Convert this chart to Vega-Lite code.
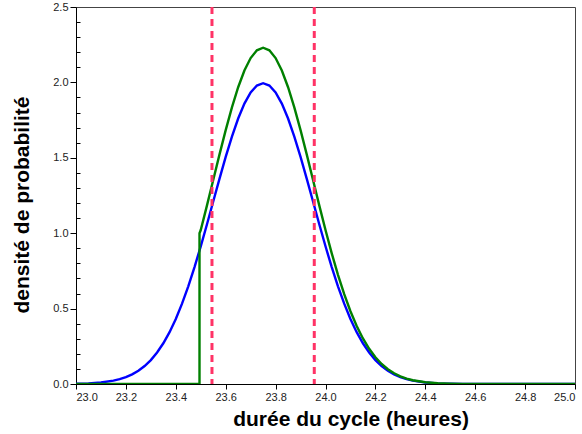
{
  "$schema": "https://vega.github.io/schema/vega-lite/v6.json",
  "autosize": "none",
  "width": 499,
  "height": 377,
  "padding": {"left": 76, "top": 7, "right": 7, "bottom": 50},
  "background": "white",
  "config": {
    "view": {"stroke": "#444444", "strokeWidth": 1},
    "axis": {
      "labelFont": "Liberation Sans",
      "labelFontSize": 11,
      "labelColor": "#222222",
      "titleFont": "Liberation Sans",
      "titleFontSize": 21,
      "titleFontWeight": "bold",
      "titleColor": "#000000",
      "domainColor": "#000000",
      "tickColor": "#000000",
      "grid": false
    }
  },
  "datasets": {
    "curves": [
      {"s": "normale", "i": 1, "x": 23.0, "y": 0.0018},
      {"s": "normale", "i": 2, "x": 23.05, "y": 0.0044},
      {"s": "normale", "i": 3, "x": 23.1, "y": 0.0101},
      {"s": "normale", "i": 4, "x": 23.15, "y": 0.0222},
      {"s": "normale", "i": 5, "x": 23.175, "y": 0.032},
      {"s": "normale", "i": 6, "x": 23.2, "y": 0.0455},
      {"s": "normale", "i": 7, "x": 23.225, "y": 0.0636},
      {"s": "normale", "i": 8, "x": 23.25, "y": 0.0876},
      {"s": "normale", "i": 9, "x": 23.275, "y": 0.1189},
      {"s": "normale", "i": 10, "x": 23.3, "y": 0.1587},
      {"s": "normale", "i": 11, "x": 23.325, "y": 0.2086},
      {"s": "normale", "i": 12, "x": 23.35, "y": 0.27},
      {"s": "normale", "i": 13, "x": 23.375, "y": 0.3439},
      {"s": "normale", "i": 14, "x": 23.4, "y": 0.4314},
      {"s": "normale", "i": 15, "x": 23.425, "y": 0.5327},
      {"s": "normale", "i": 16, "x": 23.45, "y": 0.6476},
      {"s": "normale", "i": 17, "x": 23.475, "y": 0.7751},
      {"s": "normale", "i": 18, "x": 23.5, "y": 0.9132},
      {"s": "normale", "i": 19, "x": 23.525, "y": 1.0594},
      {"s": "normale", "i": 20, "x": 23.55, "y": 1.2099},
      {"s": "normale", "i": 21, "x": 23.575, "y": 1.3603},
      {"s": "normale", "i": 22, "x": 23.6, "y": 1.5057},
      {"s": "normale", "i": 23, "x": 23.625, "y": 1.6408},
      {"s": "normale", "i": 24, "x": 23.65, "y": 1.7603},
      {"s": "normale", "i": 25, "x": 23.675, "y": 1.8593},
      {"s": "normale", "i": 26, "x": 23.7, "y": 1.9333},
      {"s": "normale", "i": 27, "x": 23.725, "y": 1.9792},
      {"s": "normale", "i": 28, "x": 23.75, "y": 1.9947},
      {"s": "normale", "i": 29, "x": 23.775, "y": 1.9792},
      {"s": "normale", "i": 30, "x": 23.8, "y": 1.9333},
      {"s": "normale", "i": 31, "x": 23.825, "y": 1.8593},
      {"s": "normale", "i": 32, "x": 23.85, "y": 1.7603},
      {"s": "normale", "i": 33, "x": 23.875, "y": 1.6408},
      {"s": "normale", "i": 34, "x": 23.9, "y": 1.5057},
      {"s": "normale", "i": 35, "x": 23.925, "y": 1.3603},
      {"s": "normale", "i": 36, "x": 23.95, "y": 1.2099},
      {"s": "normale", "i": 37, "x": 23.975, "y": 1.0594},
      {"s": "normale", "i": 38, "x": 24.0, "y": 0.9132},
      {"s": "normale", "i": 39, "x": 24.025, "y": 0.7751},
      {"s": "normale", "i": 40, "x": 24.05, "y": 0.6476},
      {"s": "normale", "i": 41, "x": 24.075, "y": 0.5327},
      {"s": "normale", "i": 42, "x": 24.1, "y": 0.4314},
      {"s": "normale", "i": 43, "x": 24.125, "y": 0.3439},
      {"s": "normale", "i": 44, "x": 24.15, "y": 0.27},
      {"s": "normale", "i": 45, "x": 24.175, "y": 0.2086},
      {"s": "normale", "i": 46, "x": 24.2, "y": 0.1587},
      {"s": "normale", "i": 47, "x": 24.225, "y": 0.1189},
      {"s": "normale", "i": 48, "x": 24.25, "y": 0.0876},
      {"s": "normale", "i": 49, "x": 24.275, "y": 0.0636},
      {"s": "normale", "i": 50, "x": 24.3, "y": 0.0455},
      {"s": "normale", "i": 51, "x": 24.325, "y": 0.032},
      {"s": "normale", "i": 52, "x": 24.35, "y": 0.0222},
      {"s": "normale", "i": 53, "x": 24.4, "y": 0.0101},
      {"s": "normale", "i": 54, "x": 24.45, "y": 0.0044},
      {"s": "normale", "i": 55, "x": 24.5, "y": 0.0018},
      {"s": "normale", "i": 56, "x": 24.55, "y": 0.0007},
      {"s": "normale", "i": 57, "x": 24.65, "y": 0.0001},
      {"s": "normale", "i": 58, "x": 24.75, "y": 0.0},
      {"s": "normale", "i": 59, "x": 25.0, "y": 0.0},
      {"s": "tronquee", "i": 1, "x": 23.0, "y": 0.0},
      {"s": "tronquee", "i": 2, "x": 23.495, "y": 0.0},
      {"s": "tronquee", "i": 3, "x": 23.495, "y": 1.0},
      {"s": "tronquee", "i": 4, "x": 23.5, "y": 1.021},
      {"s": "tronquee", "i": 5, "x": 23.525, "y": 1.1845},
      {"s": "tronquee", "i": 6, "x": 23.55, "y": 1.3528},
      {"s": "tronquee", "i": 7, "x": 23.575, "y": 1.5209},
      {"s": "tronquee", "i": 8, "x": 23.6, "y": 1.6835},
      {"s": "tronquee", "i": 9, "x": 23.625, "y": 1.8345},
      {"s": "tronquee", "i": 10, "x": 23.65, "y": 1.9681},
      {"s": "tronquee", "i": 11, "x": 23.675, "y": 2.0788},
      {"s": "tronquee", "i": 12, "x": 23.7, "y": 2.1616},
      {"s": "tronquee", "i": 13, "x": 23.725, "y": 2.2129},
      {"s": "tronquee", "i": 14, "x": 23.75, "y": 2.2302},
      {"s": "tronquee", "i": 15, "x": 23.775, "y": 2.2129},
      {"s": "tronquee", "i": 16, "x": 23.8, "y": 2.1616},
      {"s": "tronquee", "i": 17, "x": 23.825, "y": 2.0788},
      {"s": "tronquee", "i": 18, "x": 23.85, "y": 1.9681},
      {"s": "tronquee", "i": 19, "x": 23.875, "y": 1.8345},
      {"s": "tronquee", "i": 20, "x": 23.9, "y": 1.6835},
      {"s": "tronquee", "i": 21, "x": 23.925, "y": 1.5209},
      {"s": "tronquee", "i": 22, "x": 23.95, "y": 1.3528},
      {"s": "tronquee", "i": 23, "x": 23.975, "y": 1.1845},
      {"s": "tronquee", "i": 24, "x": 24.0, "y": 1.021},
      {"s": "tronquee", "i": 25, "x": 24.025, "y": 0.8666},
      {"s": "tronquee", "i": 26, "x": 24.05, "y": 0.7241},
      {"s": "tronquee", "i": 27, "x": 24.075, "y": 0.5956},
      {"s": "tronquee", "i": 28, "x": 24.1, "y": 0.4823},
      {"s": "tronquee", "i": 29, "x": 24.125, "y": 0.3845},
      {"s": "tronquee", "i": 30, "x": 24.15, "y": 0.3019},
      {"s": "tronquee", "i": 31, "x": 24.175, "y": 0.2332},
      {"s": "tronquee", "i": 32, "x": 24.2, "y": 0.1774},
      {"s": "tronquee", "i": 33, "x": 24.225, "y": 0.1329},
      {"s": "tronquee", "i": 34, "x": 24.25, "y": 0.0979},
      {"s": "tronquee", "i": 35, "x": 24.275, "y": 0.0711},
      {"s": "tronquee", "i": 36, "x": 24.3, "y": 0.0509},
      {"s": "tronquee", "i": 37, "x": 24.325, "y": 0.0358},
      {"s": "tronquee", "i": 38, "x": 24.35, "y": 0.0248},
      {"s": "tronquee", "i": 39, "x": 24.4, "y": 0.0113},
      {"s": "tronquee", "i": 40, "x": 24.45, "y": 0.0049},
      {"s": "tronquee", "i": 41, "x": 24.5, "y": 0.002},
      {"s": "tronquee", "i": 42, "x": 24.55, "y": 0.00075},
      {"s": "tronquee", "i": 43, "x": 24.65, "y": 0.0001},
      {"s": "tronquee", "i": 44, "x": 24.75, "y": 0.0},
      {"s": "tronquee", "i": 45, "x": 25.0, "y": 0.0}
    ],
    "bornes": [
      {"xv": 23.545},
      {"xv": 23.955}
    ]
  },
  "layer": [
    {
      "data": {"name": "curves"},
      "mark": {"type": "line", "strokeWidth": 2.4, "interpolate": "linear", "clip": true},
      "encoding": {
        "x": {
          "field": "x", "type": "quantitative",
          "scale": {"domain": [23, 25], "nice": false, "zero": false},
          "axis": {
            "title": "durée du cycle (heures)",
            "values": [23.0,23.1,23.2,23.3,23.4,23.5,23.6,23.7,23.8,23.9,24.0,24.1,24.2,24.3,24.4,24.5,24.6,24.7,24.8,24.9,25.0],
            "labelExpr": "round(datum.value*10) % 2 == 0 ? format(datum.value, '.1f') : ''",
            "tickSize": {"condition": {"test": "round(datum.value*10) % 2 == 0", "value": 5}, "value": -4},
            "labelPadding": 2,
            "titleX": 274.5,
            "titleY": 24,
            "titleAlign": "center"
          }
        },
        "y": {
          "field": "y", "type": "quantitative",
          "scale": {"domain": [0, 2.5], "nice": false},
          "axis": {
            "title": "densité de probabilité",
            "values": [0.0,0.1,0.2,0.3,0.4,0.5,0.6,0.7,0.8,0.9,1.0,1.1,1.2,1.3,1.4,1.5,1.6,1.7,1.8,1.9,2.0,2.1,2.2,2.3,2.4,2.5],
            "labelExpr": "round(datum.value*10) % 5 == 0 ? format(datum.value, '.1f') : ''",
            "tickSize": {"condition": {"test": "round(datum.value*10) % 5 == 0", "value": 6}, "value": -4},
            "labelPadding": 2,
            "titleX": -44,
            "titleY": 197.5,
            "titleAlign": "center"
          }
        },
        "color": {
          "field": "s", "type": "nominal",
          "scale": {"domain": ["normale", "tronquee"], "range": ["#0000ff", "#008000"]},
          "legend": null
        },
        "order": {"field": "i", "type": "quantitative"}
      }
    },
    {
      "data": {"name": "bornes"},
      "mark": {"type": "rule", "color": "#ff3366", "strokeWidth": 3, "strokeDash": [7, 5]},
      "encoding": {
        "x": {"field": "xv", "type": "quantitative"}
      }
    }
  ]
}
